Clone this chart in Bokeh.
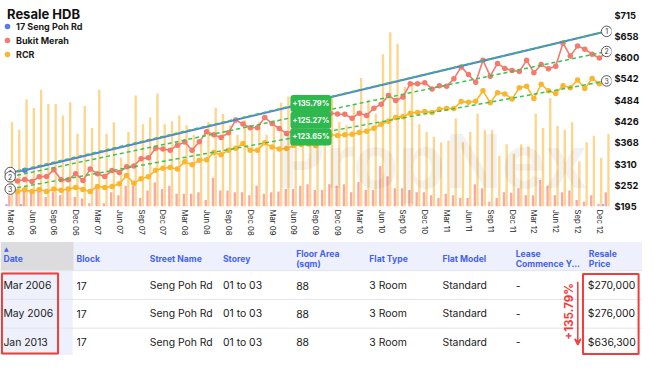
import math
from bokeh.plotting import figure
from bokeh.models import (Range1d, LinearAxis, FixedTicker, Legend, LegendItem,
                          Label, ColumnDataSource, Arrow, VeeHead)
from bokeh.transform import dodge
from bokeh.core.properties import value
from bokeh.embed import file_html
from bokeh.resources import INLINE

FONT = "Inter"

# ---------------- data ----------------
# month index 0 = Mar 2006 ... 82 = Jan 2013
x_tick_labels = ["Mar 06", "Jun 06", "Sep 06", "Dec 06", "Mar 07", "Jun 07", "Sep 07", "Dec 07",
                 "Mar 08", "Jun 08", "Sep 08", "Dec 08", "Mar 09", "Jun 09", "Sep 09", "Dec 09",
                 "Mar 10", "Jun 10", "Sep 10", "Dec 10", "Mar 11", "Jun 11", "Sep 11", "Dec 11",
                 "Mar 12", "Jun 12", "Sep 12", "Dec 12"]
price_ticks = [195, 252, 310, 368, 426, 484, 542, 600, 658, 715]

# Bukit Merah resale price ($K), monthly
bukit_merah = [252, 248, 252, 247, 259, 260, 277, 251, 251, 267, 249, 279, 267, 260, 275, 270,
               285, 287, 306, 308, 333, 331, 328, 341, 349, 328, 350, 376, 368, 361, 373, 406,
               396, 386, 386, 413, 397, 384, 371, 380, 392, 404, 412, 419, 424, 422, 421, 411,
               424, 418, 437, 447, 470, 457, 466, 500, 500, 503, 487, 495, 494, 513, 544, 524,
               504, 561, 520, 553, 540, 535, 532, 561, 529, 550, 539, 546, 606, 572, 598, 590,
               577, 567, 582]
# RCR resale price ($K), monthly
rcr = [223, 221, 225, 221, 226, 221, 227, 224, 227, 231, 226, 221, 234, 231, 234, 241,
       262, 242, 254, 259, 276, 281, 283, 279, 298, 290, 302, 303, 322, 316, 328, 333,
       345, 328, 328, 347, 336, 331, 332, 340, 343, 344, 340, 348, 368, 366, 368, 369,
       374, 377, 385, 395, 403, 413, 415, 424, 426, 428, 426, 434, 436, 436, 454, 452,
       455, 482, 451, 477, 474, 461, 490, 494, 462, 499, 482, 475, 495, 490, 510, 488,
       514, 500, 505]
# monthly transaction volumes (bars)
rcr_volume = [883, 800, 1120, 1030, 1220, 1070, 1070, 950, 1090, 760, 1050, 820, 1220, 760, 880, 510,
              780, 1160, 860, 930, 1180, 860, 890, 950, 850, 750, 700, 883, 1033, 967, 850, 750,
              900, 817, 883, 750, 900, 1083, 1150, 800, 917, 767, 733, 983, 1133, 883, 850, 1067,
              1343, 1117, 970, 1590, 1820, 1700, 1250, 1300, 860, 780, 730, 670, 690, 920, 670, 780,
              970, 800, 800, 530, 650, 550, 650, 630, 970, 820, 1130, 840, 800, 880, 470, 670,
              740, 510, 760]
bm_volume = [117, 150, 183, 150, 170, 100, 150, 117, 183, 100, 83, 33, 217, 33, 150, 117,
             217, 217, 90, 167, 250, 183, 217, 133, 133, 133, 150, 67, 300, 167, 167, 150,
             150, 117, 217, 133, 150, 157, 183, 183, 217, 233, 173, 173, 233, 217, 233, 150,
             257, 173, 173, 423, 317, 190, 190, 173, 150, 150, 117, 90, 133, 117, 90, 90,
             233, 190, 50, 90, 150, 143, 190, 117, 117, 277, 217, 117, 150, 167, 67, 50,
             117, 27, 150]
# 17 Seng Poh Rd transactions (Mar 2006, May 2006, Jan 2013)
sp_month = [0, 2, 82]
sp_price = [270000, 276000, 636300]
sp_volume = [1, 1, 1]

# trend lines (start, end in $K) and growth labels
trend_bm = [259, 584]
trend_rcr = [227, 507.7]
growth = ["+135.79%", "+125.27%", "+123.65%"]

# table
col_headers = [["Date"], ["Block"], ["Street Name"], ["Storey"], ["Floor Area", "(sqm)"],
               ["Flat Type"], ["Flat Model"], ["Lease", "Commence Y..."], ["Resale", "Price"]]
t_date = ["Mar 2006", "May 2006", "Jan 2013"]
t_block = ["17", "17", "17"]
t_street = ["Seng Poh Rd", "Seng Poh Rd", "Seng Poh Rd"]
t_storey = ["01 to 03", "01 to 03", "01 to 03"]
t_area = ["88", "88", "88"]
t_type = ["3 Room", "3 Room", "3 Room"]
t_model = ["Standard", "Standard", "Standard"]
t_lease = ["-", "-", "-"]

# ---------------- colours ----------------
C_BLUE = "#5A78F0"
C_RED = "#F47A6D"
C_YEL = "#FBB62C"
C_ORANGE_BAR = "#FDD58C"
C_PINK_BAR = "#F9A8A3"
C_BLUE_BAR = "#A9B7FA"
C_GREEN = "#38C451"
C_GREEN_BG = "#2DB94D"
C_HDR = "#4361EE"
C_RED_BOX = "#F23B3B"

# ---------------- geometry helpers (reference px -> data) ----------------
W = 642
H_CHART, H_TABLE = 239, 116
REF_X0, REF_DX = 10.0, 7.5          # px of first month, px per month
REF_Y270, REF_DY = 179.5, 0.4027     # px of $270K, px per $1K


def mx(px):
    return (px - REF_X0) / REF_DX


def py(px):
    return 270 + (REF_Y270 - px) / REF_DY


months = list(range(len(bukit_merah)))
sp_k = [v / 1000 for v in sp_price]
trend_sp = [sp_k[0], sp_k[-1]]
trend_x = [sp_month[0], sp_month[-1]]

p = figure(width=W, height=H_CHART, output_backend="svg", toolbar_location=None,
           x_range=Range1d(mx(0), mx(630)), y_range=Range1d(py(215), py(5)),
           y_axis_location=None, min_border_left=0, min_border_right=0,
           min_border_top=5, min_border_bottom=33, outline_line_color=None,
           background_fill_color="white", border_fill_color="white")
p.xgrid.visible = False
p.ygrid.visible = False
p.extra_y_ranges = {"vol": Range1d(0, 2100),
                    "vol_sp": Range1d(0, 84),
                    "axis": Range1d(195, 195 + (215 - 5) * 520 / 200)}

src = ColumnDataSource(dict(m=months, bm=bukit_merah, rcr=rcr, bmv=bm_volume, rcrv=rcr_volume))
sp_src = ColumnDataSource(dict(m=sp_month, price=sp_k, vol=sp_volume))

# bars
p.vbar(x=dodge("m", 0.25), top="rcrv", width=0.32, source=src, y_range_name="vol",
       fill_color=C_ORANGE_BAR, line_color=None)
p.vbar(x=dodge("m", -0.12), top="bmv", width=0.32, source=src, y_range_name="vol",
       fill_color=C_PINK_BAR, line_color=None)
p.vbar(x=dodge("m", -0.5), top="vol", width=0.32, source=sp_src, y_range_name="vol_sp",
       fill_color=C_BLUE_BAR, line_color=None)

# watermark
p.add_layout(Label(x=mx(285), y=py(214), text="PropNex", text_font=FONT, text_font_size="74px",
                   text_font_style="bold", text_color="#000000", text_alpha=0.05))

# lines
p.line("m", "bm", source=src, line_color=C_RED, line_width=1.6)
bm_dots = p.scatter("m", "bm", source=src, size=5.5, fill_color=C_RED, line_color=None)
p.line("m", "rcr", source=src, line_color=C_YEL, line_width=1.6)
rcr_dots = p.scatter("m", "rcr", source=src, size=5.5, fill_color=C_YEL, line_color=None)
p.line("m", "price", source=sp_src, line_color=C_BLUE, line_width=2)
sp_dots = p.scatter("m", "price", source=sp_src, size=5.5, fill_color=C_BLUE, line_color=None)

# trend lines
for tr in (trend_sp, trend_bm, trend_rcr):
    p.line(trend_x, tr, line_color=C_GREEN, line_width=1.5, line_dash="4 3")

# numbered end markers
for num, tr in (("1", trend_sp), ("2", trend_bm), ("3", trend_rcr)):
    p.scatter(trend_x, tr, size=10.5, fill_color="white", line_color="#555555", line_width=1)
    p.text(trend_x, tr, text=[num, num], text_font=value(FONT), text_font_size="7px",
           text_align="center", text_baseline="middle", text_color="#333333")

# growth labels
for txt, ypx in zip(growth, (107.5, 125, 142.3)):
    p.add_layout(Label(x=mx(320), y=py(ypx), text=txt, text_font=FONT, text_font_size="7.5px",
                       text_font_style="bold", text_color="white", text_align="center",
                       text_baseline="middle", background_fill_color=C_GREEN_BG,
                       border_radius=3, padding=(2, 4)))

# title + legend
p.add_layout(Label(x=6.5, y=py(14), x_units="screen", text="Resale HDB", text_font=FONT,
                   text_font_size="13px", text_font_style="bold", text_color="#111111",
                   text_baseline="middle"))
legend = Legend(items=[LegendItem(label="17 Seng Poh Rd", renderers=[sp_dots]),
                       LegendItem(label="Bukit Merah", renderers=[bm_dots]),
                       LegendItem(label="RCR", renderers=[rcr_dots])],
                location="top_left", margin=0, padding=2, spacing=0,
                glyph_width=14, glyph_height=14, label_height=12, label_standoff=2,
                label_text_font=FONT, label_text_font_size="9px", label_text_font_style="bold",
                label_text_color="#1a1a1a", background_fill_alpha=0, border_line_color=None,
                title="Resale HDB", title_text_font_size="12px", title_text_alpha=0,
                title_standoff=0)
p.add_layout(legend)

# x axis
p.xaxis.ticker = FixedTicker(ticks=[3 * i for i in range(len(x_tick_labels))])
p.xaxis.major_label_overrides = {3 * i: lab for i, lab in enumerate(x_tick_labels)}
p.xaxis.major_label_orientation = "vertical"
p.xaxis.major_label_text_font = FONT
p.xaxis.major_label_text_font_size = "7.7px"
p.xaxis.major_label_text_color = "#222222"
p.xaxis.major_label_standoff = 3
p.xaxis.major_tick_out = 0
p.xaxis.major_tick_in = 0
p.xaxis.minor_tick_out = 0
p.xaxis.axis_line_color = None
p.xaxis.major_tick_line_color = None
p.xaxis.minor_tick_line_color = None

# right price axis
ra = LinearAxis(y_range_name="axis", ticker=FixedTicker(ticks=price_ticks),
                major_label_overrides={v: "$%d" % v for v in price_ticks})
ra.major_label_text_font = FONT
ra.major_label_text_font_size = "9.3px"
ra.major_label_text_font_style = "bold"
ra.major_label_text_color = "#111111"
ra.major_label_standoff = 3
ra.major_tick_out = 0
ra.major_tick_in = 0
ra.minor_tick_out = 0
ra.axis_line_color = None
ra.major_tick_line_color = None
ra.minor_tick_line_color = None
p.add_layout(ra, "right")

# ---------------- table ----------------
t = figure(width=W, height=H_TABLE, output_backend="svg", toolbar_location=None,
           x_range=Range1d(0, 658), y_range=Range1d(371, 250),
           x_axis_location=None, y_axis_location=None, min_border=0,
           min_border_left=0, min_border_right=0, min_border_top=0, min_border_bottom=0,
           outline_line_color=None, background_fill_color="white", border_fill_color="white")
t.xgrid.visible = False
t.ygrid.visible = False

COL_W = 75
t.quad(left=[COL_W], right=[658], top=[252.5], bottom=[282.5], fill_color="#EEF1FD", line_color=None)
t.quad(left=[0], right=[COL_W], top=[252.5], bottom=[282.5], fill_color="#DCDCDE", line_color=None)
t.quad(left=[0], right=[COL_W - 1], top=[282.5], bottom=[371], fill_color="#EEF1FB", line_color=None)
t.segment(x0=[0, 0, 0], x1=[658, 658, 658], y0=[282.5, 312.5, 342.5], y1=[282.5, 312.5, 342.5],
          line_color="#E2E4EA", line_width=1)

hx, hy, ht = [], [], []
for ci, lines in enumerate(col_headers):
    x = ci * COL_W + 3
    if len(lines) == 1:
        hx.append(x); hy.append(270.3); ht.append(lines[0])
    else:
        hx += [x, x]; hy += [264.7, 275.7]; ht += lines
t.text(hx, hy, text=ht, text_font=value(FONT), text_font_size="8.6px", text_font_style="bold",
       text_color=C_HDR, text_baseline="middle")
t.text([3.5], [259.5], text=["\u25B2"], text_font=value("DejaVu Sans"), text_font_size="6px",
       text_color=C_HDR, text_baseline="middle")

t_price = ["$" + format(v, ",") for v in sp_price]
columns = [t_date, t_block, t_street, t_storey, t_area, t_type, t_model, t_lease, t_price]
row_y = [298, 327.3, 357]
cx, cy, ct = [], [], []
for ci, col in enumerate(columns):
    for ri, val in enumerate(col):
        cx.append(ci * COL_W + (3 if ci != len(columns) - 1 else 2))
        cy.append(row_y[ri]); ct.append(val)
t.text(cx, cy, text=ct, text_font=value(FONT), text_font_size="10.4px",
       text_color="#1a1a1a", text_baseline="middle")

# highlight boxes, arrow, growth text
t.quad(left=[1.5, 597], right=[59, 654], top=[285.5, 286], bottom=[369, 369.5],
       fill_color=None, line_color=C_RED_BOX, line_width=2)
t.add_layout(Arrow(end=VeeHead(size=6, line_color=C_RED_BOX, line_width=1.5, fill_color=None),
                   x_start=591.7, y_start=294, x_end=591.7, y_end=360,
                   line_color=C_RED_BOX, line_width=1.5))
t.text([583], [325], text=[growth[0]], angle=math.pi / 2, text_font=value(FONT),
       text_font_size="11.5px", text_font_style="bold", text_color=C_RED_BOX,
       text_align="center", text_baseline="middle")

open("out.html", "w").write(file_html([p, t], INLINE))
